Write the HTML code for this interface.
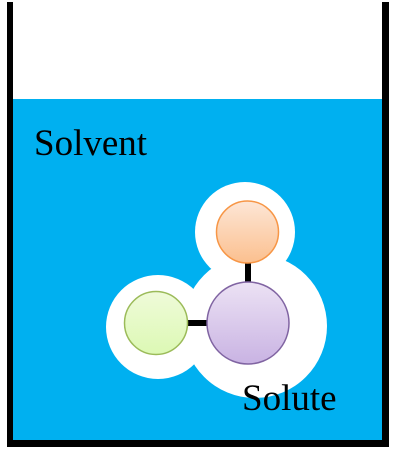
<!DOCTYPE html>
<html><head><meta charset="utf-8"><style>html,body{margin:0;padding:0;background:#fff;width:402px;height:460px;overflow:hidden}</style></head>
<body>
<svg width="402" height="460" viewBox="0 0 402 460" xmlns="http://www.w3.org/2000/svg">
<defs>
<linearGradient id="go" x1="0" y1="0" x2="0" y2="1"><stop offset="0" stop-color="#fde6d6"/><stop offset="1" stop-color="#fbc08f"/></linearGradient>
<linearGradient id="gp" x1="0" y1="0" x2="0" y2="1"><stop offset="0" stop-color="#ece2f4"/><stop offset="1" stop-color="#c9b3e3"/></linearGradient>
<linearGradient id="gg" x1="0" y1="0" x2="0" y2="1"><stop offset="0" stop-color="#effad9"/><stop offset="1" stop-color="#dcf9b4"/></linearGradient>
</defs>
<rect x="13" y="99" width="369" height="341" fill="#00B0F0"/>
<rect x="7" y="2" width="6" height="445" fill="#000"/>
<rect x="382" y="2" width="7" height="445" fill="#000"/>
<rect x="7" y="440" width="382" height="7" fill="#000"/>
<circle cx="245" cy="232" r="50" fill="#fff"/>
<circle cx="255" cy="326" r="72" fill="#fff"/>
<circle cx="158" cy="327" r="52" fill="#fff"/>
<line x1="248" y1="262" x2="248" y2="283" stroke="#000" stroke-width="6"/>
<line x1="187" y1="323" x2="208" y2="323" stroke="#000" stroke-width="6"/>
<circle cx="247.5" cy="232" r="31" fill="url(#go)" stroke="#f79646" stroke-width="1.5"/>
<circle cx="248" cy="323" r="41" fill="url(#gp)" stroke="#8064a2" stroke-width="1.5"/>
<circle cx="156" cy="323" r="31.5" fill="url(#gg)" stroke="#9bbb59" stroke-width="1.5"/>
<text x="34" y="155" font-family="Liberation Serif, serif" font-size="37" fill="#000">Solvent</text>
<text x="242" y="410" font-family="Liberation Serif, serif" font-size="37" fill="#000">Solute</text>
</svg>
</body></html>
